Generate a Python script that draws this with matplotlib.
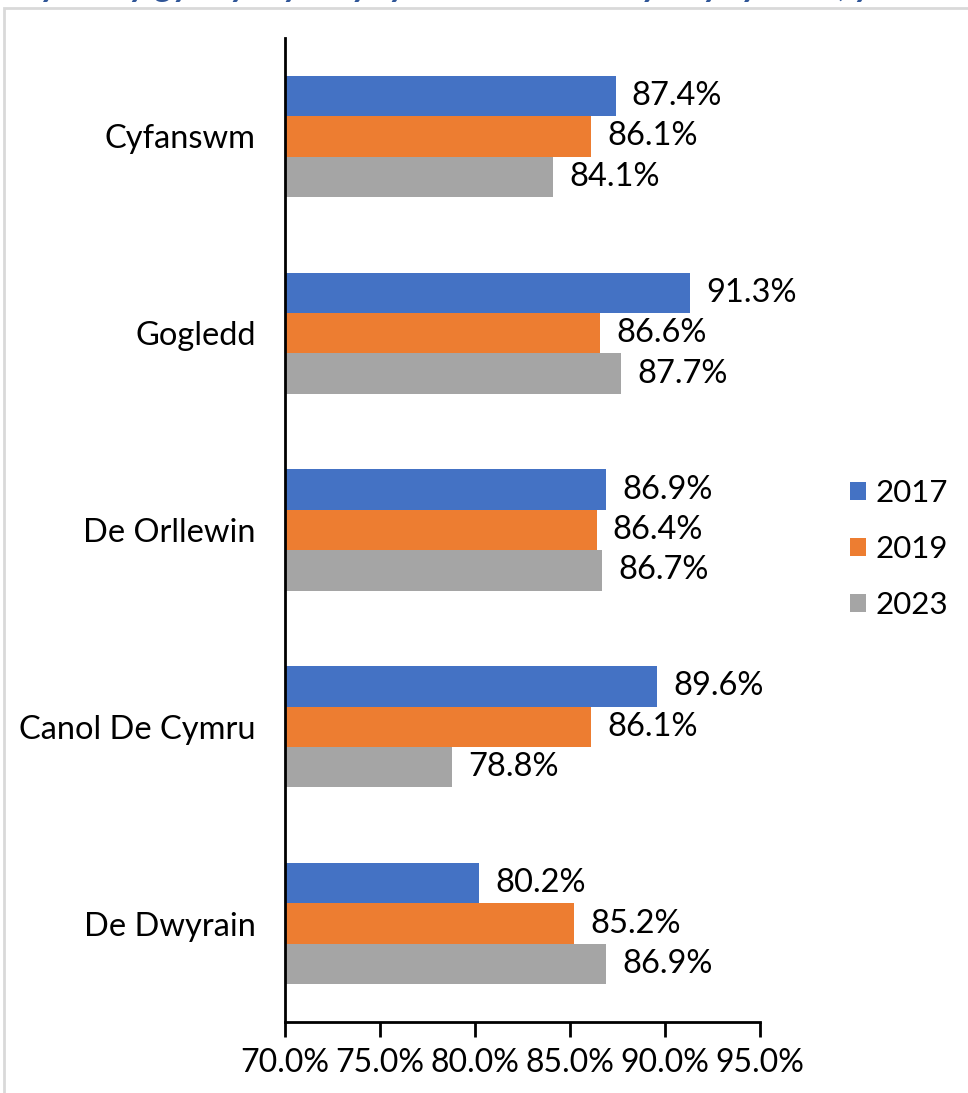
import matplotlib
matplotlib.use('Agg')

import matplotlib.pyplot as plt
import matplotlib.patches as patches
import numpy as np

# ─── data ───
regions = ['Cyfanswm', 'Gogledd', 'De Orllewin', 'Canol De Cymru', 'De Dwyrain']
years = ['2017', '2019', '2023']
vals_2017 = [87.4, 91.3, 86.9, 89.6, 80.2]
vals_2019 = [86.1, 86.6, 86.4, 86.1, 85.2]
vals_2023 = [84.1, 87.7, 86.7, 78.8, 86.9]
x_ticks = [70.0, 75.0, 80.0, 85.0, 90.0, 95.0]

colors = ['#4472C4', '#ED7D31', '#A5A5A5']

plt.rcParams['font.family'] = ['Lato', 'DejaVu Sans']

W, H = 968, 1093
fig = plt.figure(figsize=(W / 100, H / 100), dpi=100)

# outer light frame (only top/left edges visible in reference)
frame = patches.Rectangle((4 / W, -0.05), 1.2, 1 - 8 / H + 0.05,
                          transform=fig.transFigure, fill=False,
                          edgecolor='#D9D9D9', linewidth=2)
fig.patches.append(frame)

# title cut off by the top edge, as in the reference
fig.text(0.02, 1 + 4 / H, 'Cyfran y gyrwyr sy\'n cydymffurfio â\'r terfyn cyflymder, yn ôl rhanbarth',
         color='#2F5597', fontsize=26, fontstyle='italic', fontweight='bold',
         ha='left', va='baseline')

ax = fig.add_axes([285 / W, 1 - 1022 / H, (760 - 285) / W, (1022 - 38) / H])

y = np.arange(len(regions))
bh = 0.205
series = [vals_2017, vals_2019, vals_2023]
for i, (yr, vals, c) in enumerate(zip(years, series, colors)):
    pos = y + (i - 1) * bh
    ax.barh(pos, vals, height=bh, color=c, label=yr, left=0)
    for p, v in zip(pos, vals):
        ax.text(v + 0.85, p, f'{v:.1f}%', va='center', ha='left', fontsize=23.5)

ax.set_xlim(70, 95)
ax.set_ylim(len(regions) - 0.5, -0.5)
ax.set_xticks(x_ticks)
ax.set_xticklabels([f'{t:.1f}%' for t in x_ticks], fontsize=23)
ax.set_yticks(y)
ax.set_yticklabels(regions, fontsize=23.5)
ax.tick_params(axis='y', length=0, pad=21)
ax.tick_params(axis='x', length=11, width=2, direction='out', pad=8)

for s in ['top', 'right']:
    ax.spines[s].set_visible(False)
ax.spines['left'].set_linewidth(2)
ax.spines['bottom'].set_linewidth(2)

leg = fig.legend(loc='center left', bbox_to_anchor=(822 / W, 1 - 549 / H),
                 frameon=False, fontsize=22.5, handlelength=0.52, handleheight=0.52,
                 handletextpad=0.3, labelspacing=0.9)

fig.savefig('out.png', dpi=100, facecolor='white')
